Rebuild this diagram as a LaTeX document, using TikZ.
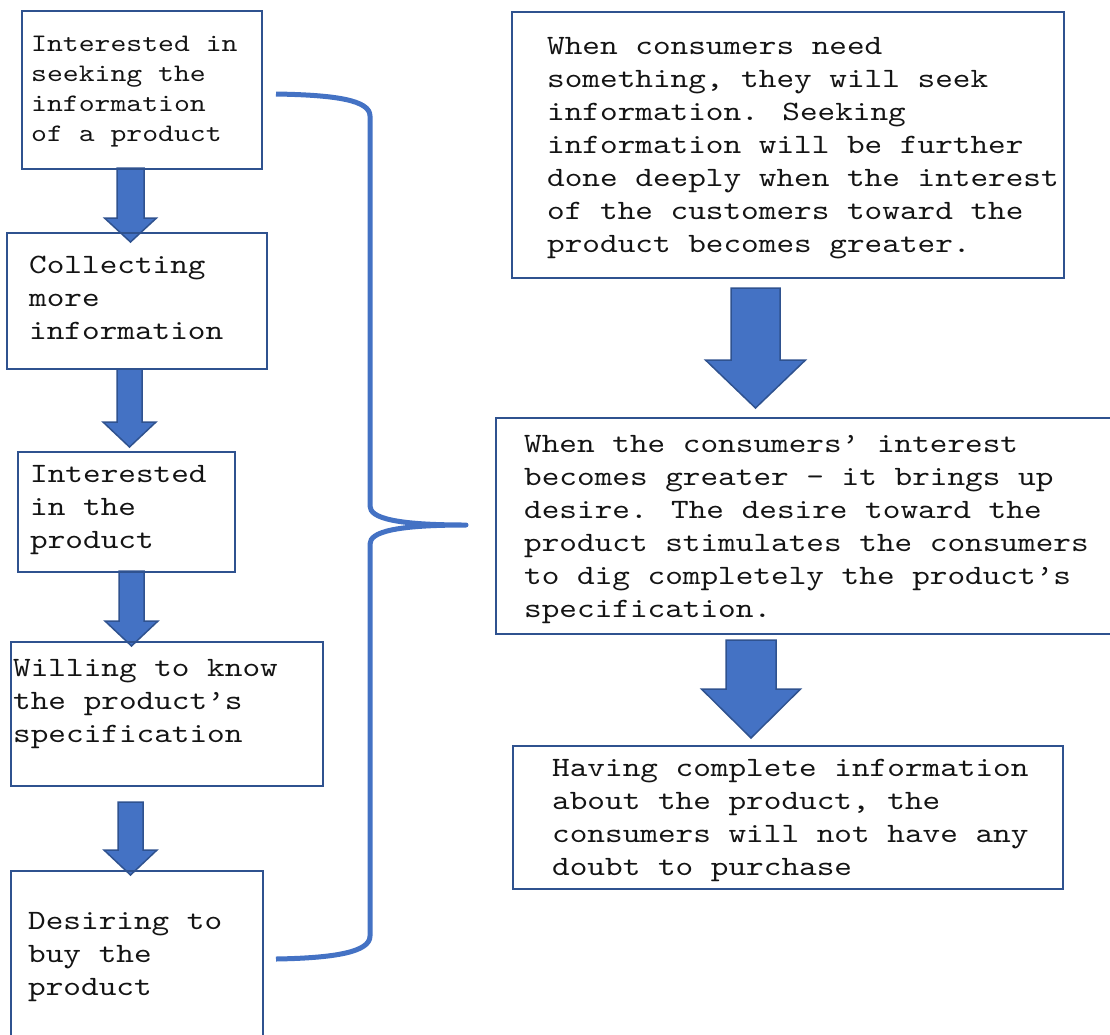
\documentclass[tikz,border=0pt]{standalone}
\usepackage{fontspec}
\newfontfamily\courfont{lmmono10-regular.otf}[FakeStretch=1.2]
\definecolor{boxblue}{RGB}{47,82,143}
\definecolor{fillblue}{RGB}{68,114,196}
\definecolor{txtcol}{RGB}{20,20,20}
\newcommand\blockarr[6]{% cx, y0, y1, tip, shaft half width, head half width
  \draw[blockarrow] (#1-#5,#2) -- (#1+#5,#2) -- (#1+#5,#3) -- (#1+#6,#3) -- (#1,#4)
     -- (#1-#6,#3) -- (#1-#5,#3) -- cycle;}
\begin{document}
\begin{tikzpicture}[x=1pt,y=-1pt,
  box/.style={draw=boxblue, line width=2pt, anchor=north west, inner sep=0pt},
  txt/.style={anchor=north west, inner sep=0pt, align=left, text=txtcol,
    font=\courfont\fontsize{28}{33}\selectfont},
  txtsmall/.style={txt, font=\courfont\fontsize{25.2}{30}\selectfont},
  blockarrow/.style={fill=fillblue, draw=boxblue, line width=1.5pt, line join=miter},
  brace/.style={draw=fillblue, line width=5pt, line join=round, line cap=butt}]
\useasboundingbox (0,0) rectangle (1110,1034);

% block arrows (drawn first, boxes on top)
\blockarr{130.5}{168}{218}{242}{13.5}{26}
\blockarr{129.5}{369}{422}{447}{12.5}{26.5}
\blockarr{131.5}{571}{621}{646}{12.5}{26.5}
\blockarr{130.5}{802}{850}{875}{12.5}{26.5}
\blockarr{755.5}{288}{360}{408}{24.5}{50}
\blockarr{751}{640}{689}{738}{25}{49.5}

% left boxes
\node[box, minimum width=240pt, minimum height=158pt] (b1) at (21,10) {};
\node[box, minimum width=260pt, minimum height=136pt] (b2) at (6,232) {};
\node[box, minimum width=217pt, minimum height=120pt] (b3) at (17,451) {};
\node[box, minimum width=312pt, minimum height=144pt] (b4) at (10,641) {};
\node[box, minimum width=252pt, minimum height=180pt] (b5) at (10,870) {};

% right boxes
\node[box, minimum width=552pt, minimum height=266pt] (r1) at (511,11) {};
\node[box, minimum width=625pt, minimum height=216pt] (r2) at (495,417) {};
\node[box, minimum width=550pt, minimum height=143pt] (r3) at (512,745) {};

% texts
\node[txtsmall] (t1) at (31,30) {\strut Interested in\\seeking the\\information\\of a product};
\node[txt] (t2) at (29,249.9) {\strut Collecting\\more\\information};
\node[txt] (t3) at (30,458.9) {\strut Interested\\in the\\product};
\node[txt] (t4) at (13,652.9) {\strut Willing to know\\the product’s\\specification};
\node[txt] (t5) at (28,905.9) {\strut Desiring to\\buy the\\product};
\node[txt] (t6) at (547,30.9) {\strut When consumers need\\something, they will seek\\information. Seeking\\information will be further\\done deeply when the interest\\of the customers toward the\\product becomes greater.};
\node[txt] (t7) at (524,429.4) {\strut When the consumers’ interest\\becomes greater – it brings up\\desire. The desire toward the\\product stimulates the consumers\\to dig completely the product’s\\specification.};
\node[txt] (t8) at (552,753.4) {\strut Having complete information\\about the product, the\\consumers will not have any\\doubt to purchase};

% brace
\coordinate (bA) at (276,94);
\coordinate (bTip) at (466,525);
\coordinate (bB) at (276,959);
\draw[brace] (bA) .. controls (335,95) and (370,100) .. (370,116) -- (370,506)
  .. controls (370,518) and (395,525) .. (bTip)
  .. controls (395,525) and (370,532) .. (370,544) -- (370,936)
  .. controls (370,952) and (335,958) .. (bB);
\end{tikzpicture}
\end{document}
